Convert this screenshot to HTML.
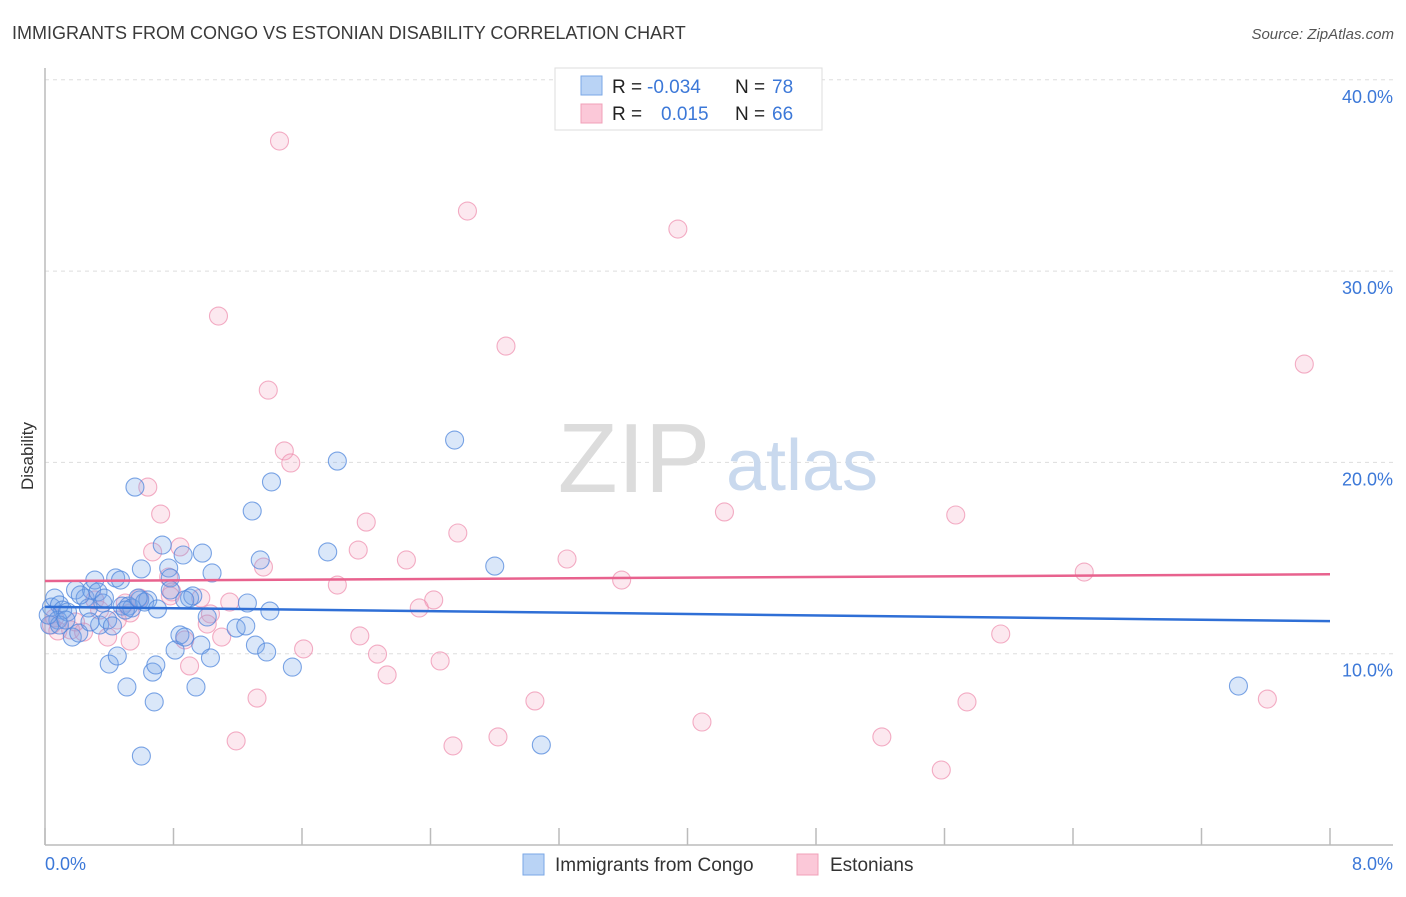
<!DOCTYPE html>
<html><head><meta charset="utf-8"><style>
body{margin:0;background:#fff;font-family:"Liberation Sans",sans-serif;}
svg text{font-family:"Liberation Sans",sans-serif;}
</style></head><body>
<svg id="chart" width="1406" height="892" xmlns="http://www.w3.org/2000/svg">
<text x="12" y="39" font-size="18" fill="#3a3a3a">IMMIGRANTS FROM CONGO VS ESTONIAN DISABILITY CORRELATION CHART</text>
<text x="1394" y="39" font-size="15" fill="#555" font-style="italic" text-anchor="end">Source: ZipAtlas.com</text>
<g id="grid"></g>
<g>
<text x="634" y="492" font-size="98" fill="#dcdcdc" font-family="Liberation Serif,serif" text-anchor="middle">ZIP</text>
<text x="802" y="490" font-size="72" fill="#c9d9ee" text-anchor="middle">atlas</text>
</g>
<line x1="45" y1="845" x2="1393" y2="845" stroke="#bbb" stroke-width="1.5"/>
<line x1="45" y1="68" x2="45" y2="845" stroke="#bbb" stroke-width="1.5"/>
<g id="ticks"></g>
<g id="pts"></g>
<g id="trends"></g>
<text transform="translate(33,456) rotate(-90)" font-size="17" fill="#333" text-anchor="middle">Disability</text>
<text x="45" y="870" font-size="18" fill="#3c78d8">0.0%</text>
<text x="1393" y="870" font-size="18" fill="#3c78d8" text-anchor="end">8.0%</text>
<g>
<rect x="555" y="68" width="267" height="62" fill="#fff" stroke="#ddd"/>
<rect x="581" y="76" width="21" height="19" fill="#b9d3f5" stroke="#7aa7e6"/>
<rect x="581" y="104" width="21" height="19" fill="#fbc8d8" stroke="#f0a0b8"/>
<text x="612" y="93" font-size="19" fill="#222">R =</text>
<text x="647" y="93" font-size="19" fill="#3c78d8">-0.034</text>
<text x="735" y="93" font-size="19" fill="#222">N =</text>
<text x="772" y="93" font-size="19" fill="#3c78d8">78</text>
<text x="612" y="120" font-size="19" fill="#222">R =</text>
<text x="661" y="120" font-size="19" fill="#3c78d8">0.015</text>
<text x="735" y="120" font-size="19" fill="#222">N =</text>
<text x="772" y="120" font-size="19" fill="#3c78d8">66</text>
</g>
<g>
<rect x="523" y="854" width="21" height="21" fill="#b9d3f5" stroke="#7aa7e6"/>
<text x="555" y="871" font-size="19" fill="#333">Immigrants from Congo</text>
<rect x="797" y="854" width="21" height="21" fill="#fbc8d8" stroke="#f0a0b8"/>
<text x="830" y="871" font-size="19" fill="#333">Estonians</text>
</g>
</svg>
<script>
const yTicks=[10,20,30,40];
const yTickLabels=["10.0%","20.0%","30.0%","40.0%"];
const xTicks=[0,0.8,1.6,2.4,3.2,4,4.8,5.6,6.4,7.2,8];
const congoX=[0.04,0.06,0.09,0.11,0.08,0.03,0.14,0.17,0.19,0.21,0.25,0.27,0.29,0.31,0.33,0.34,0.36,0.39,0.40,0.42,0.44,0.45,0.47,0.48,0.51,0.52,0.54,0.56,0.59,0.60,0.62,0.64,0.67,0.68,0.69,0.70,0.73,0.77,0.78,0.78,0.81,0.84,0.86,0.87,0.90,0.92,0.94,0.97,0.98,1.01,1.03,1.04,1.19,1.25,1.26,1.29,1.31,1.34,1.38,1.40,1.41,1.54,1.76,1.82,2.55,2.80,3.09,7.43,0.60,0.09,0.22,0.28,0.37,0.50,0.58,0.87,0.02,0.13];
const congoY=[12.44,12.91,12.55,12.28,11.76,11.50,12.18,10.87,13.33,11.08,12.91,12.39,13.33,13.85,13.23,11.50,12.65,11.76,9.46,11.45,13.96,9.88,13.85,12.49,8.26,12.49,12.39,18.71,12.81,14.43,12.70,12.81,9.04,7.48,9.41,12.34,15.68,14.48,13.96,13.33,10.19,10.98,15.16,10.87,12.91,13.02,8.26,10.45,15.26,11.92,9.78,14.22,11.34,11.45,12.65,17.46,10.45,14.90,10.09,12.23,18.98,9.30,15.32,20.07,21.17,14.58,5.23,8.31,4.65,11.50,13.07,11.66,12.91,12.28,12.91,12.81,12.02,11.76];
const estX=[1.46,2.63,3.94,1.08,2.87,7.84,1.39,1.49,1.53,0.64,0.72,4.23,5.67,2.00,2.57,0.67,0.84,1.95,3.25,2.25,1.36,6.47,3.59,1.82,0.77,0.79,0.50,0.59,0.97,1.15,2.42,2.33,1.03,0.04,0.08,0.16,0.24,0.31,0.53,0.39,0.53,0.87,1.10,1.96,5.95,1.61,2.07,2.46,0.90,2.13,1.32,3.05,5.74,7.61,4.09,1.19,2.82,5.21,2.54,5.58,0.06,0.19,0.34,0.45,1.01,0.78];
const estY=[36.80,33.14,32.20,27.65,26.08,25.14,23.78,20.60,19.97,18.71,17.30,17.41,17.25,16.88,16.31,15.32,15.58,15.42,14.95,14.90,14.53,14.27,13.85,13.59,14.01,13.23,12.65,12.91,12.91,12.70,12.81,12.39,12.08,11.50,11.19,11.24,11.13,12.81,12.13,10.87,10.66,10.72,10.87,10.93,11.03,10.25,9.98,9.62,9.36,8.89,7.68,7.53,7.48,7.63,6.43,5.44,5.65,5.65,5.18,3.92,11.87,11.66,12.28,11.76,11.55,13.02];
const congoTrend=[12.45,11.7];
const estTrend=[13.8,14.15];
const NS="http://www.w3.org/2000/svg";
function sx(v){return 45+v/8*1285;}
function sy(v){return 845-v*19.13;}
function mk(t,a,p){const e=document.createElementNS(NS,t);for(const k in a)e.setAttribute(k,a[k]);p.appendChild(e);return e;}
const grid=document.getElementById('grid');
yTicks.forEach((v,i)=>{
 const l=mk('line',{x1:45,x2:1393,y1:sy(v),y2:sy(v),stroke:'#ddd','stroke-dasharray':'4,4'},grid);
 
 
 const t=mk('text',{x:1393,y:sy(v)+23,'font-size':18,fill:'#3c78d8','text-anchor':'end'},grid);
 t.textContent=yTickLabels[i];
 
 
});
const ticks=document.getElementById('ticks');
xTicks.forEach(v=>{
 const l=mk('line',{x1:sx(v),x2:sx(v),y1:828,y2:845,stroke:'#bbb','stroke-width':1.5},ticks);
 
 
});
const pts=document.getElementById('pts');
estX.forEach((x,i)=>{
 const c=mk('circle',{cx:sx(x),cy:sy(estY[i]),r:9,fill:'rgba(245,165,192,0.25)',stroke:'rgba(238,140,172,0.7)','stroke-width':1.1},pts);
 
 
});
congoX.forEach((x,i)=>{
 const c=mk('circle',{cx:sx(x),cy:sy(congoY[i]),r:9,fill:'rgba(120,168,232,0.27)',stroke:'rgba(80,135,220,0.75)','stroke-width':1.1},pts);
 
 
});
const tr=document.getElementById('trends');
const l1=mk('line',{x1:sx(0),x2:sx(8),y1:sy(estTrend[0]),y2:sy(estTrend[1]),stroke:'#e8628e','stroke-width':2.5},tr);


const l2=mk('line',{x1:sx(0),x2:sx(8),y1:sy(congoTrend[0]),y2:sy(congoTrend[1]),stroke:'#2f6fd6','stroke-width':2.5},tr);


</script>
</body></html>
